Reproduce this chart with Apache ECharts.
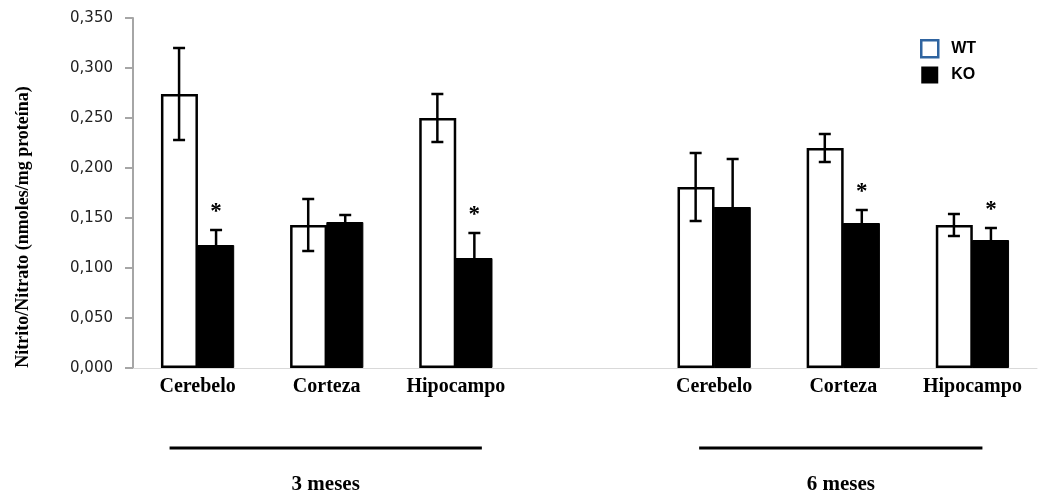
<!DOCTYPE html>
<html>
<head>
<meta charset="utf-8">
<script src="https://cdn.jsdelivr.net/npm/echarts@6/dist/echarts.min.js"></script>
<style>
  html, body { margin: 0; padding: 0; background: #ffffff; }
  #chart { width: 1044px; height: 495px; }
</style>
</head>
<body>
<div id="chart"></div>
<script>
// ---- data ----
const categories = ['Cerebelo', 'Corteza', 'Hipocampo', '', 'Cerebelo', 'Corteza', 'Hipocampo'];
const wtValues = [0.274, 0.143, 0.250, null, 0.181, 0.220, 0.143];
const wtErrors = [0.046, 0.026, 0.024, null, 0.034, 0.014, 0.011];
const koValues = [0.123, 0.146, 0.110, null, 0.161, 0.145, 0.128];
const koErrors = [0.015, 0.007, 0.025, null, 0.048, 0.013, 0.012];
const koSignificant = [true, false, true, false, false, true, true];
const seriesNames = ['WT', 'KO'];
const yTickValues = [0, 0.05, 0.10, 0.15, 0.20, 0.25, 0.30, 0.35];
const groupLabels = ['3 meses', '6 meses'];
const groupRanges = [[0, 2], [4, 6]];
const yAxisTitle = 'Nitrito/Nitrato (nmoles/mg proteína)';

// ---- style constants ----
const BAR_W = 37;
const SERIF = '"Liberation Serif", "Times New Roman", serif';
const SANS = '"Liberation Sans", Arial, sans-serif';

const chart = echarts.init(document.getElementById('chart'), null, { renderer: 'canvas' });

function errData(values, errors, side, sigs) {
  const out = [];
  values.forEach((v, i) => {
    if (v == null) return;
    out.push([i, v, errors[i], side, sigs ? (sigs[i] ? 1 : 0) : 0]);
  });
  return out;
}

function renderErr(params, api) {
  const idx = api.value(0), v = api.value(1), e = api.value(2), side = api.value(3), sig = api.value(4);
  const x = api.coord([idx, v])[0] + side * BAR_W / 2;
  const top = api.coord([idx, v + e])[1];
  const bot = api.coord([idx, v - e])[1];
  const cap = 6;
  const st = { stroke: '#000', lineWidth: 2.5 };
  const children = [
    { type: 'line', shape: { x1: x, y1: top, x2: x, y2: bot }, style: st },
    { type: 'line', shape: { x1: x - cap, y1: top, x2: x + cap, y2: top }, style: st },
    { type: 'line', shape: { x1: x - cap, y1: bot, x2: x + cap, y2: bot }, style: st }
  ];
  if (sig) {
    children.push({
      type: 'text',
      style: { x: x, y: top - 18, text: '*', fill: '#000', font: 'bold 23px ' + SERIF, align: 'center', verticalAlign: 'middle' }
    });
  }
  return { type: 'group', children: children };
}

const option = {
  backgroundColor: '#ffffff',
  animation: false,
  grid: { left: 133, right: 7, top: 18, bottom: 127, containLabel: false },
  legend: {
    orient: 'vertical',
    left: 915,
    top: 34,
    itemWidth: 17,
    itemHeight: 17,
    itemGap: 8,
    icon: 'rect',
    textStyle: { fontFamily: SANS, fontWeight: 'bold', fontSize: 16, color: '#000', padding: [0, 0, 0, 8] },
    data: [
      { name: seriesNames[0], itemStyle: { color: '#ffffff', borderColor: '#2f64a0', borderWidth: 2.5 } },
      { name: seriesNames[1], itemStyle: { color: '#000000', borderColor: '#000000', borderWidth: 0 } }
    ]
  },
  xAxis: {
    type: 'category',
    data: categories,
    axisLine: { show: true, lineStyle: { color: '#d9d9d9', width: 1 } },
    axisTick: { show: false },
    axisLabel: { interval: 0, margin: 9, fontFamily: SERIF, fontWeight: 'bold', fontSize: 20, color: '#000' },
    splitLine: { show: false }
  },
  yAxis: {
    type: 'value',
    min: 0,
    max: 0.35,
    interval: 0.05,
    axisLine: { show: true, lineStyle: { color: '#a6a6a6', width: 2 } },
    axisTick: { show: true, inside: false, length: 8, lineStyle: { color: '#a6a6a6', width: 2 } },
    axisLabel: {
      margin: 20,
      fontFamily: '"DejaVu Sans", sans-serif',
      fontSize: 15,
      color: '#222',
      formatter: v => {
        const t = yTickValues.find(tv => Math.abs(tv - v) < 1e-9);
        return (t != null ? t : v).toFixed(3).replace('.', ',');
      }
    },
    splitLine: { show: false }
  },
  series: [
    {
      name: seriesNames[0],
      type: 'bar',
      data: wtValues,
      barWidth: BAR_W,
      barGap: '-2%',
      itemStyle: { color: '#ffffff', borderColor: '#000000', borderWidth: 2.5 },
      z: 3
    },
    {
      name: seriesNames[1],
      type: 'bar',
      data: koValues,
      barWidth: BAR_W,
      barGap: '-2%',
      itemStyle: { color: '#000000', borderColor: '#000000', borderWidth: 1 },
      z: 2
    },
    {
      name: 'WT err',
      type: 'custom',
      renderItem: renderErr,
      data: errData(wtValues, wtErrors, -1, null),
      encode: { x: 0, y: 1 },
      z: 5,
      silent: true
    },
    {
      name: 'KO err',
      type: 'custom',
      renderItem: renderErr,
      data: errData(koValues, koErrors, 1, koSignificant),
      encode: { x: 0, y: 1 },
      z: 5,
      silent: true
    }
  ]
};

chart.setOption(option);

// group annotation lines and labels, placed from the category axis
const groupOffsets = [[-28, 26], [-15, 10]];
const lineY = 448, labelY = 485;
const graphics = [];
groupRanges.forEach((r, gi) => {
  const x0 = chart.convertToPixel({ xAxisIndex: 0 }, r[0]) + groupOffsets[gi][0];
  const x1 = chart.convertToPixel({ xAxisIndex: 0 }, r[1]) + groupOffsets[gi][1];
  graphics.push({
    type: 'line', shape: { x1: x0, y1: lineY, x2: x1, y2: lineY },
    style: { stroke: '#000', lineWidth: 3 }
  });
  graphics.push({
    type: 'text',
    style: { x: (x0 + x1) / 2, y: labelY, text: groupLabels[gi], fill: '#000', font: 'bold 21px ' + SERIF, align: 'center', verticalAlign: 'middle' }
  });
});
graphics.push({
  type: 'text',
  x: 23, y: 227,
  rotation: Math.PI / 2,
  style: { x: 0, y: 0, text: yAxisTitle, fill: '#000', font: 'bold 18px ' + SERIF, align: 'center', verticalAlign: 'middle' }
});
chart.setOption({ graphic: graphics });
</script>
</body>
</html>
